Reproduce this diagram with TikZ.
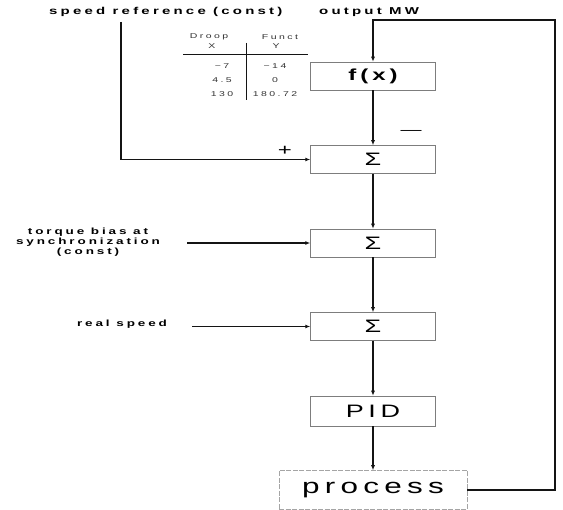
\documentclass[tikz,border=0pt]{standalone}
\usepackage{fontspec}
\usepackage{xcolor}
\usetikzlibrary{arrows.meta, positioning, calc}
\newfontfamily\diafont[FakeStretch=1.5, LetterSpace=32]{Liberation Sans}
\newfontfamily\tabfont[FakeStretch=1.5, LetterSpace=35]{Liberation Sans}
\newfontfamily\blockfont[FakeStretch=1.5, LetterSpace=25]{Liberation Sans}
\definecolor{LineBlack}{RGB}{20, 20, 20}
\definecolor{BoxGray}{RGB}{125, 125, 125}
\definecolor{FaintGray}{RGB}{165, 165, 165}

\begin{document}
\begin{tikzpicture}[
    x=1pt, y=-1pt,
    node distance=55pt,
    block/.style={rectangle, draw=BoxGray, line width=0.5pt, minimum width=125pt, minimum height=28pt, inner sep=0pt, align=center},
    sumblk/.style={block, font=\blockfont\fontsize{18}{18}\selectfont},
    arrow/.style={-{Latex[length=5pt, width=4pt]}, line width=1.2pt, draw=LineBlack},
    title/.style={font=\diafont\bfseries\fontsize{10}{10}\selectfont, inner sep=0pt, anchor=west},
    lbl/.style={font=\diafont\bfseries\fontsize{9}{10}\selectfont, inner sep=0pt, align=center},
    tab/.style={font=\tabfont\fontsize{7}{8}\selectfont, inner sep=0pt, text=black!80},
    tabline/.style={line width=1pt, draw=LineBlack}
]
    \useasboundingbox (0,0) rectangle (563,510);

    % Ueberschriften
    \node[title] (spdlbl) at (49,12) {speed reference (const)};
    \node[title] (mwlbl) at (319,12) {output MW};

    % Regelkette
    \node[block, font=\blockfont\bfseries\fontsize{16}{18}\selectfont] (fx) at (373,76) {f(x)};
    \node[sumblk, below=55pt of fx] (sum1) {Σ};
    \node[sumblk, below=55pt of sum1] (sum2) {Σ};
    \node[sumblk, below=55pt of sum2] (sum3) {Σ};
    \node[block, minimum height=30pt, font=\blockfont\fontsize{18}{18}\selectfont, below=55pt of sum3] (pid) {PID};
    \node[block, draw=FaintGray, dash pattern=on 5pt off 1.5pt, minimum width=188pt, minimum height=39pt, font=\blockfont\fontsize{21}{21}\selectfont, below=44pt of pid] (proc) {process};

    % Kennlinie
    \node[tab] (droophd) at (209,37) {Droop};
    \node[tab] (droopx) at (212,46) {X};
    \node[tab] (functhd) at (280,37) {Funct};
    \node[tab] (functy) at (276,46) {Y};
    \draw[tabline] (183,55) -- (308,55);
    \draw[tabline] (246,43) -- (246,100);
    \foreach \xv/\yv/\r [count=\i] in {−7/−14/66, 4.5/0/80, 130/180.72/94}{
        \node[tab] (xval\i) at (222,\r) {\xv};
        \node[tab] (yval\i) at (275,\r) {\yv};
    }

    % Eingaenge
    \node[lbl] (tqlbl) at (88,242) {torque bias at\\synchronization\\(const)};
    \node[lbl] (rslbl) at (122,324) {real speed};
    \coordinate (spdin) at (121,22);
    \coordinate (tqin) at ($(sum2.west)+(-123,0)$);
    \coordinate (rsin) at ($(sum3.west)+(-118,0)$);
    \coordinate (fbcorner) at (555,20);

    % Vorzeichen
    \node[font=\diafont\fontsize{16}{16}\selectfont, inner sep=0pt] (plus) at (285,151) {+};
    \node[font=\diafont\fontsize{14}{14}\selectfont, inner sep=0pt] (minus) at (411,132) {—};

    % Verbindungen
    \draw[arrow] (spdin) |- (sum1.west);
    \draw[arrow] (tqin) -- (sum2.west);
    \draw[arrow] (rsin) -- (sum3.west);
    \draw[arrow] (fx.south) -- (sum1.north);
    \draw[arrow] (sum1.south) -- (sum2.north);
    \draw[arrow] (sum2.south) -- (sum3.north);
    \draw[arrow] (sum3.south) -- (pid.north);
    \draw[arrow] (pid.south) -- (proc.north);
    \draw[arrow] (proc.east) -| (fbcorner) -| (fx.north);
\end{tikzpicture}
\end{document}
